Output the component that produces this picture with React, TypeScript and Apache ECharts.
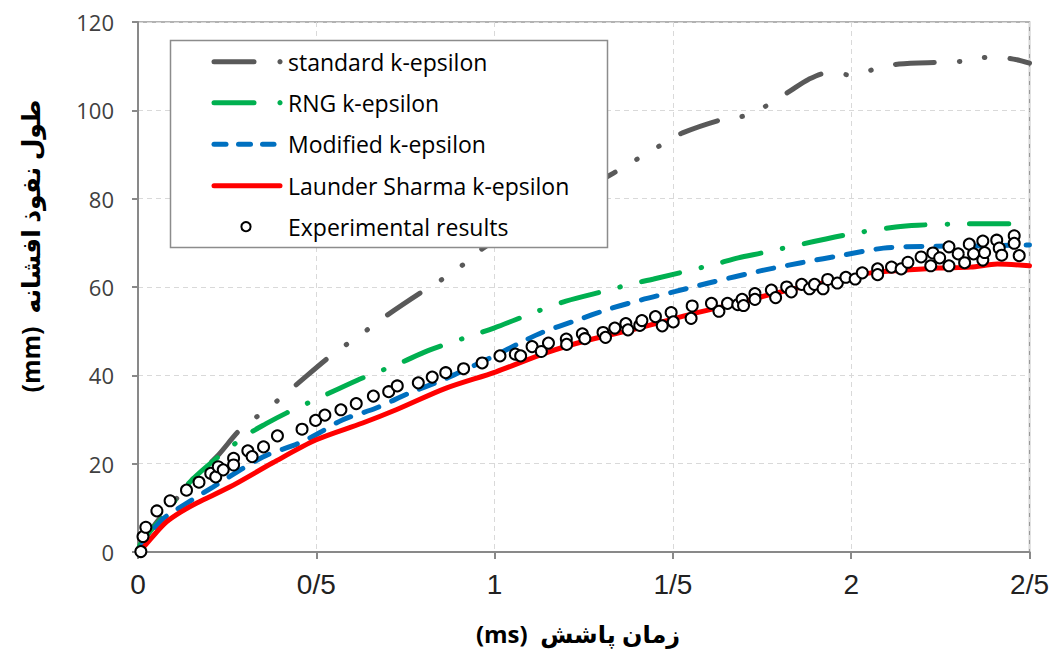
import React, { useEffect, useRef } from "react";
import * as echarts from "echarts";

const xTicks = [0, 0.5, 1, 1.5, 2, 2.5];
const xTickLabels = ["0", "0/5", "1", "1/5", "2", "2/5"];
const yTicks = [0, 20, 40, 60, 80, 100, 120];

const seriesNames = [
  "standard k-epsilon",
  "RNG k-epsilon",
  "Modified k-epsilon",
  "Launder Sharma k-epsilon",
  "Experimental results",
];

const standardData = [
  [0, 0.5], [0.05, 6.5], [0.109, 12.2], [0.151, 16.3], [0.22, 21.5], [0.285, 27.6],
  [0.336, 30.8], [0.39, 34.2], [0.44, 37.6], [0.537, 44.2], [0.59, 47.3], [0.646, 50.5],
  [0.7, 53.7], [0.8, 59.1], [0.858, 62.0], [0.914, 65.2], [0.968, 68.8], [1.1, 75.0],
  [1.2, 79.7], [1.314, 84.9], [1.353, 86.7], [1.409, 89.4], [1.468, 92.2], [1.527, 94.9],
  [1.641, 98.0], [1.709, 98.9], [1.77, 101.4], [1.829, 104.4], [1.88, 107.0], [1.935, 108.5],
  [2.002, 108.0], [2.069, 109.4], [2.134, 110.5], [2.257, 110.9], [2.324, 111.2],
  [2.391, 112.1], [2.455, 111.6], [2.5, 110.7],
];

const rngData = [
  [0, 0.5], [0.017, 3.2], [0.07, 7.9], [0.109, 12.2], [0.151, 16.3], [0.22, 21.2],
  [0.305, 26.5], [0.358, 29.0], [0.417, 31.5], [0.5, 34.6], [0.615, 38.9], [0.674, 40.8],
  [0.735, 42.8], [0.817, 45.7], [0.917, 48.5], [0.998, 50.7], [1.113, 54.3], [1.2, 56.8],
  [1.32, 59.3], [1.384, 60.7], [1.446, 61.8], [1.619, 65.2], [1.683, 66.6], [1.748, 67.7],
  [1.985, 71.8], [2.125, 73.6], [2.187, 74.0], [2.327, 74.3], [2.5, 74.3],
];

const modifiedData = [
  [0, 0], [0.03, 3.8], [0.07, 7.5], [0.1, 9.2], [0.21, 14.7], [0.35, 21.5], [0.453, 24.7],
  [0.509, 27.0], [0.573, 29.9], [0.668, 32.6], [0.761, 36.0], [0.853, 38.9], [0.937, 42.0],
  [1.004, 44.6], [1.068, 47.2], [1.133, 49.7], [1.228, 52.4], [1.32, 55.0], [1.412, 57.1],
  [1.507, 59.0], [1.6, 60.9], [1.748, 63.7], [1.86, 65.5], [1.983, 67.3], [2.09, 68.8],
  [2.2, 69.2], [2.35, 69.3], [2.5, 69.5],
];

const launderData = [
  [0, 0], [0.02, 1.5], [0.05, 4.3], [0.08, 6.8], [0.117, 8.9], [0.165, 11.1], [0.257, 14.7],
  [0.378, 20.2], [0.5, 25.4], [0.63, 29.2], [0.724, 32.2], [0.864, 37.1], [1.004, 40.8],
  [1.144, 45.1], [1.264, 48.0], [1.404, 50.7], [1.544, 53.7], [1.683, 56.4], [1.823, 59.3],
  [1.963, 61.6], [2.055, 63.2], [2.15, 63.8], [2.243, 64.3], [2.335, 64.5], [2.41, 65.2],
  [2.5, 64.8],
];

const experimentalData = [
  [0.008, 0.1], [0.014, 3.5], [0.022, 5.6], [0.053, 9.3], [0.09, 11.6], [0.136, 14.0],
  [0.171, 15.8], [0.204, 17.8], [0.218, 17.0], [0.225, 19.3], [0.239, 18.6], [0.268, 21.2],
  [0.268, 19.7], [0.308, 22.9], [0.32, 21.6], [0.352, 23.8], [0.391, 26.3], [0.46, 27.8],
  [0.498, 29.8], [0.524, 31.0], [0.569, 32.2], [0.612, 33.6], [0.66, 35.3], [0.703, 36.3],
  [0.727, 37.6], [0.786, 38.3], [0.825, 39.6], [0.863, 40.6], [0.913, 41.5], [0.965, 42.8],
  [1.015, 44.4], [1.058, 44.8], [1.073, 44.4], [1.105, 46.5], [1.131, 45.4], [1.151, 47.3],
  [1.201, 48.2], [1.202, 47.0], [1.246, 49.4], [1.253, 48.3], [1.304, 49.7], [1.311, 48.6],
  [1.337, 50.7], [1.368, 51.7], [1.374, 50.3], [1.407, 51.3], [1.413, 52.4], [1.451, 53.3],
  [1.47, 51.2], [1.495, 54.2], [1.501, 52.1], [1.554, 55.7], [1.551, 52.9], [1.608, 56.3],
  [1.629, 54.5], [1.653, 56.3], [1.682, 56.0], [1.694, 57.2], [1.698, 55.8], [1.73, 58.5],
  [1.73, 57.2], [1.776, 59.3], [1.788, 57.6], [1.819, 60.0], [1.832, 58.9], [1.861, 60.6],
  [1.883, 59.6], [1.897, 60.6], [1.921, 59.6], [1.934, 61.7], [1.961, 60.9], [1.985, 62.2],
  [2.011, 61.8], [2.031, 63.2], [2.074, 64.1], [2.074, 62.8], [2.113, 64.5], [2.14, 64.1],
  [2.159, 65.6], [2.196, 66.8], [2.223, 64.8], [2.229, 67.7], [2.248, 66.6], [2.274, 64.8],
  [2.274, 69.1], [2.3, 67.5], [2.318, 65.5], [2.331, 69.7], [2.343, 67.5], [2.369, 66.1],
  [2.369, 70.4], [2.374, 67.8], [2.408, 70.6], [2.415, 68.8], [2.422, 67.2], [2.457, 71.6],
  [2.457, 69.9], [2.471, 67.1],
];

const colors = ["#595959", "#00b050", "#0070c0", "#ff0000", "#000000"];

export default function App() {
  const ref = useRef<HTMLDivElement>(null);

  useEffect(() => {
    if (!ref.current) return;
    const chart = echarts.init(ref.current, undefined, { renderer: "svg" });
    const fontLatin = "'Open Sans', 'DejaVu Sans', sans-serif";

    const legendRows = [61.7, 102.7, 144.3, 185.7, 226.7];
    const legendGraphics: any[] = [
      {
        type: "rect",
        z: 100,
        shape: { x: 170.5, y: 40.5, width: 437, height: 207 },
        style: { fill: "#ffffff", stroke: "#8c8c8c", lineWidth: 1.5 },
      },
      {
        type: "line", z: 101,
        shape: { x1: 214, y1: legendRows[0], x2: 254, y2: legendRows[0] },
        style: { stroke: colors[0], lineWidth: 5, lineCap: "round" },
      },
      { type: "circle", z: 101, shape: { cx: 280, cy: legendRows[0], r: 2.6 }, style: { fill: colors[0] } },
      {
        type: "line", z: 101,
        shape: { x1: 214, y1: legendRows[1], x2: 254, y2: legendRows[1] },
        style: { stroke: colors[1], lineWidth: 5, lineCap: "round" },
      },
      { type: "circle", z: 101, shape: { cx: 280, cy: legendRows[1], r: 2.6 }, style: { fill: colors[1] } },
      {
        type: "line", z: 101,
        shape: { x1: 214, y1: legendRows[2], x2: 226, y2: legendRows[2] },
        style: { stroke: colors[2], lineWidth: 5, lineCap: "round" },
      },
      {
        type: "line", z: 101,
        shape: { x1: 238.5, y1: legendRows[2], x2: 250.5, y2: legendRows[2] },
        style: { stroke: colors[2], lineWidth: 5, lineCap: "round" },
      },
      {
        type: "line", z: 101,
        shape: { x1: 262.5, y1: legendRows[2], x2: 274, y2: legendRows[2] },
        style: { stroke: colors[2], lineWidth: 5, lineCap: "round" },
      },
      {
        type: "line", z: 101,
        shape: { x1: 214, y1: legendRows[3], x2: 280, y2: legendRows[3] },
        style: { stroke: colors[3], lineWidth: 5, lineCap: "round" },
      },
      {
        type: "circle", z: 101,
        shape: { cx: 246, cy: legendRows[4], r: 4.6 },
        style: { fill: "#ffffff", stroke: "#000000", lineWidth: 2 },
      },
    ];
    seriesNames.forEach((name, i) => {
      legendGraphics.push({
        type: "text",
        z: 101,
        x: 288,
        y: legendRows[i],
        style: {
          text: name,
          fill: "#000000",
          font: `23px ${fontLatin}`,
          textAlign: "left",
          textVerticalAlign: "middle",
        },
      });
    });

    const option: any = {
      animation: false,
      backgroundColor: "#ffffff",
      grid: {
        left: 138,
        right: 20,
        top: 22,
        bottom: 100,
        show: true,
        borderColor: "#999999",
        borderWidth: 1.5,
        containLabel: false,
      },
      xAxis: {
        type: "value",
        min: xTicks[0],
        max: xTicks[xTicks.length - 1],
        interval: 0.5,
        axisLine: { show: true, onZero: false, lineStyle: { color: "#898989", width: 2 } },
        axisTick: { show: true, length: 7, lineStyle: { color: "#898989", width: 2 } },
        axisLabel: {
          margin: 18,
          color: "#222222",
          fontSize: 28,
          fontFamily: "'Liberation Sans Narrow', 'Liberation Sans', sans-serif",
          formatter: (v: number) => {
            const idx = xTicks.findIndex((t) => Math.abs(t - v) < 1e-9);
            return idx >= 0 ? xTickLabels[idx] : "";
          },
        },
        splitLine: { show: true, lineStyle: { color: "#d9d9d9", type: [5, 4], width: 1 } },
      },
      yAxis: {
        type: "value",
        min: yTicks[0],
        max: yTicks[yTicks.length - 1],
        interval: 20,
        axisLine: { show: true, onZero: false, lineStyle: { color: "#898989", width: 2 } },
        axisTick: { show: true, length: 6, lineStyle: { color: "#898989", width: 2 } },
        axisLabel: {
          margin: 24,
          color: "#404040",
          fontSize: 22,
          fontFamily: fontLatin,
        },
        splitLine: { show: true, lineStyle: { color: "#d9d9d9", type: [5, 4], width: 1 } },
      },
      graphic: [
        ...legendGraphics,
        {
          type: "text",
          x: 578,
          y: 633,
          style: {
            text: "(ms)  زمان پاشش",
            fill: "#000000",
            font: `bold 24px ${fontLatin}`,
            textAlign: "center",
            textVerticalAlign: "middle",
          },
        },
        {
          type: "text",
          x: 30,
          y: 246,
          rotation: Math.PI / 2,
          style: {
            text: "(mm)  طول نفوذ افشانه",
            fill: "#000000",
            font: `bold 25px ${fontLatin}`,
            textAlign: "center",
            textVerticalAlign: "middle",
          },
        },
      ],
      series: [
        {
          name: seriesNames[0],
          type: "line",
          data: standardData,
          showSymbol: false,
          smooth: 0.3,
          z: 2,
          lineStyle: { color: colors[0], width: 5, cap: "round", type: [39, 25, 0.5, 25, 0.5, 25] },
        },
        {
          name: seriesNames[1],
          type: "line",
          data: rngData,
          showSymbol: false,
          smooth: 0.3,
          z: 3,
          lineStyle: { color: colors[1], width: 5, cap: "round", type: [39, 22, 0.5, 22] },
        },
        {
          name: seriesNames[2],
          type: "line",
          data: modifiedData,
          showSymbol: false,
          smooth: 0.3,
          z: 4,
          lineStyle: { color: colors[2], width: 5, cap: "round", type: [16, 14] },
        },
        {
          name: seriesNames[3],
          type: "line",
          data: launderData,
          showSymbol: false,
          smooth: 0.3,
          z: 5,
          lineStyle: { color: colors[3], width: 5, cap: "round" },
        },
        {
          name: seriesNames[4],
          type: "scatter",
          data: experimentalData,
          symbol: "circle",
          symbolSize: 11,
          z: 6,
          itemStyle: { color: "#ffffff", borderColor: "#000000", borderWidth: 2, opacity: 1 },
          emphasis: { disabled: true },
        },
      ],
    };
    chart.setOption(option);
    return () => chart.dispose();
  }, []);

  return (
    <div
      ref={ref}
      style={{ position: "absolute", left: 0, top: 0, width: 1052, height: 652 }}
    />
  );
}
